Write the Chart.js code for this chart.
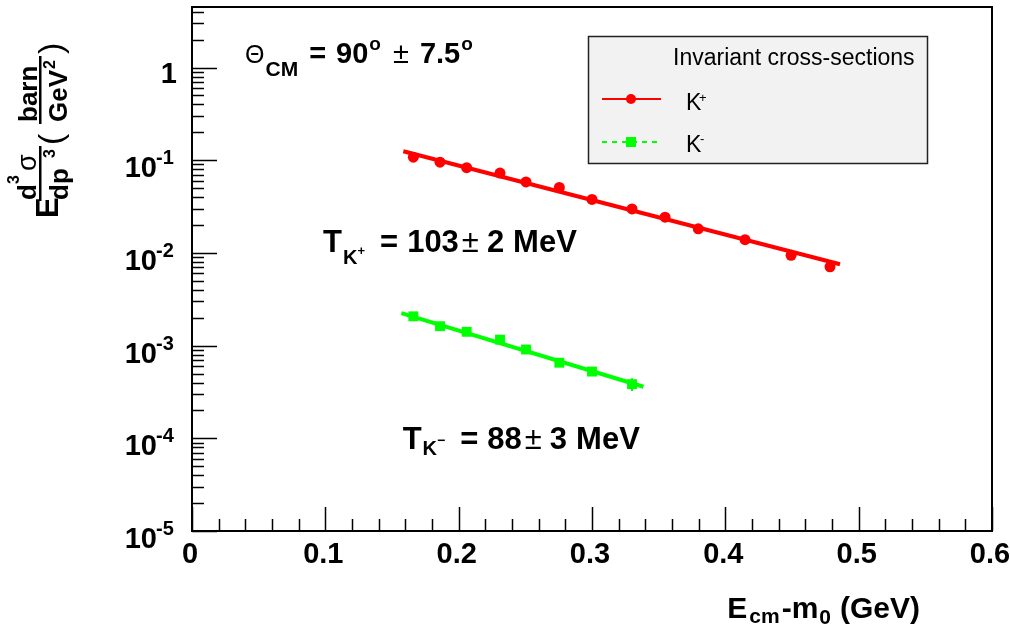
<!DOCTYPE html>
<html>
<head>
<meta charset="utf-8">
<script src="https://cdn.jsdelivr.net/npm/chart.js@4/dist/chart.umd.min.js"></script>
<style>
html, body { margin: 0; padding: 0; background: #fff; }
canvas { display: block; }
</style>
</head>
<body>
<canvas id="spectrum" width="1010" height="632"></canvas>
<script>
// K+ invariant cross-sections
const kaonPlusX = [0.166, 0.186, 0.206, 0.231, 0.2505, 0.2755, 0.300, 0.330, 0.3548, 0.3797, 0.4148, 0.4493, 0.4785];
const kaonPlusY = [0.108, 0.0954, 0.0832, 0.0728, 0.0583, 0.0508, 0.0378, 0.0298, 0.0243, 0.0182, 0.0139, 0.00942, 0.00708];
const kaonPlusErr = [0.003, 0.003, 0.002, 0.002, 0.0015, 0.0015, 0.001, 0.0008, 0.0007, 0.0005, 0.0004, 0.0003, 0.0003];

// K- invariant cross-sections
const kaonMinusX = [0.166, 0.186, 0.206, 0.231, 0.2505, 0.2755, 0.300, 0.330];
const kaonMinusY = [0.00207, 0.00162, 0.00141, 0.00116, 0.000908, 0.000654, 0.000525, 0.000384];
const kaonMinusErr = [0.00005, 0.00004, 0.00004, 0.00003, 0.00003, 0.00002, 0.00002, 0.00006];

// exponential fits, start and end of the drawn range
const kaonPlusFitX = [0.1585, 0.486];
const kaonPlusFitY = [0.125, 0.00755];
const kaonMinusFitX = [0.157, 0.3386];
const kaonMinusFitY = [0.00224, 0.00036];

const xTicks = [0, 0.1, 0.2, 0.3, 0.4, 0.5, 0.6];
const xTickLabels = ['0', '0.1', '0.2', '0.3', '0.4', '0.5', '0.6'];
const yTicks = [1e-5, 1e-4, 1e-3, 1e-2, 1e-1, 1];
const yTickExponents = ['-5', '-4', '-3', '-2', '-1', ''];

const FONT = '"Liberation Sans", Arial, Helvetica, sans-serif';
const bold = (s) => 'bold ' + s + 'px ' + FONT;
const regular = (s) => s + 'px ' + FONT;

function points(xs, ys) {
    return xs.map((x, i) => ({ x: x, y: ys[i] }));
}

// draw text pieces at fixed offsets from (x0, y0)
function drawPieces(ctx, x0, y0, pieces) {
    ctx.fillStyle = '#000';
    ctx.textBaseline = 'alphabetic';
    ctx.textAlign = 'left';
    pieces.forEach(p => {
        ctx.font = p.f;
        ctx.fillText(p.t, x0 + p.dx, y0 + (p.dy || 0));
    });
}

// pieces following each other, each with an optional gap before it
function drawRun(ctx, x0, y0, pieces, align) {
    let total = 0;
    const widths = pieces.map(p => {
        ctx.font = p.f;
        const w = ctx.measureText(p.t).width + (p.gap || 0);
        total += w;
        return w;
    });
    let x = align === 'right' ? x0 - total : x0;
    ctx.fillStyle = '#000';
    ctx.textBaseline = 'alphabetic';
    ctx.textAlign = 'left';
    pieces.forEach((p, i) => {
        ctx.font = p.f;
        ctx.fillText(p.t, x + (p.gap || 0), y0 + (p.dy || 0));
        x += widths[i];
    });
    return total;
}

const errorBars = {
    id: 'errorBars',
    afterDatasetsDraw(chart) {
        const ctx = chart.ctx;
        const xs = chart.scales.x, ys = chart.scales.y;
        const sets = [
            { x: kaonPlusX, y: kaonPlusY, e: kaonPlusErr, c: '#ff0000' },
            { x: kaonMinusX, y: kaonMinusY, e: kaonMinusErr, c: '#00ff00' }
        ];
        ctx.save();
        ctx.lineWidth = 2;
        sets.forEach(s => {
            ctx.strokeStyle = s.c;
            s.x.forEach((xv, i) => {
                const px = xs.getPixelForValue(xv);
                ctx.beginPath();
                ctx.moveTo(px, ys.getPixelForValue(s.y[i] - s.e[i]));
                ctx.lineTo(px, ys.getPixelForValue(s.y[i] + s.e[i]));
                ctx.stroke();
            });
        });
        ctx.restore();
    }
};

const frameAndText = {
    id: 'frameAndText',
    beforeDraw(chart) {
        const ctx = chart.ctx;
        ctx.save();
        ctx.fillStyle = '#fff';
        ctx.fillRect(0, 0, chart.width, chart.height);
        ctx.restore();
    },
    afterDraw(chart) {
        const ctx = chart.ctx;
        const a = chart.chartArea;
        const xs = chart.scales.x, ys = chart.scales.y;
        ctx.save();

        // frame
        ctx.strokeStyle = '#000';
        ctx.lineWidth = 2;
        ctx.strokeRect(a.left, a.top, a.right - a.left, a.bottom - a.top);

        // x ticks, drawn inwards
        ctx.lineWidth = 1.5;
        ctx.beginPath();
        for (let i = 0; i <= 30; i++) {
            const v = i * 0.02;
            const px = Math.round(xs.getPixelForValue(v)) + 0.5;
            const len = i % 5 === 0 ? 24 : 12;
            ctx.moveTo(px, a.bottom);
            ctx.lineTo(px, a.bottom - len);
        }
        // y ticks, decades and 2..9 in between
        for (let d = -5; d <= 0; d++) {
            for (let k = 1; k <= 9; k++) {
                const v = k * Math.pow(10, d);
                if (v > ys.max) break;
                const py = Math.round(ys.getPixelForValue(v)) + 0.5;
                const len = k === 1 ? 25 : 12;
                ctx.moveTo(a.left, py);
                ctx.lineTo(a.left + len, py);
            }
        }
        ctx.stroke();

        // x tick labels
        ctx.fillStyle = '#000';
        ctx.font = bold(29);
        ctx.textAlign = 'center';
        ctx.textBaseline = 'alphabetic';
        xTicks.forEach((v, i) => {
            ctx.fillText(xTickLabels[i], xs.getPixelForValue(v) - 2, a.bottom + 32);
        });

        // y tick labels
        yTicks.forEach((v, i) => {
            const py = ys.getPixelForValue(v);
            ctx.textAlign = 'right';
            ctx.font = bold(29);
            if (yTickExponents[i] === '') {
                ctx.fillText('1', 177, py + 15);
            } else {
                ctx.fillText('10', 157, py + 17);
                ctx.textAlign = 'left';
                ctx.font = bold(20);
                ctx.fillText(yTickExponents[i], 156, py + 4);
            }
        });

        // x axis title
        drawRun(ctx, 920, 618, [
            { t: 'E', f: bold(30) },
            { t: 'cm', f: bold(21), dy: 5, gap: 2 },
            { t: '-m', f: bold(30), gap: 2 },
            { t: '0', f: bold(21), dy: 6, gap: 1 },
            { t: '(GeV)', f: bold(30), gap: 9 }
        ], 'right');

        // y axis title, rotated
        ctx.save();
        ctx.translate(0, 218);
        ctx.rotate(-Math.PI / 2);
        drawPieces(ctx, 0, 0, [
            { t: 'E', f: bold(31), dx: 0, dy: 58 },
            { t: 'd', f: bold(26), dx: 18, dy: 36 },
            { t: '3', f: bold(16), dx: 34, dy: 19 },
            { t: 'σ', f: regular(27), dx: 47, dy: 36 },
            { t: 'dp', f: bold(26), dx: 18, dy: 68 },
            { t: '3', f: bold(16), dx: 60, dy: 55 },
            { t: '(', f: regular(34), dx: 73, dy: 62 },
            { t: 'barn', f: bold(26), dx: 96, dy: 37 },
            { t: 'GeV', f: bold(26), dx: 96, dy: 67 },
            { t: '2', f: bold(16), dx: 149, dy: 55 },
            { t: ')', f: regular(34), dx: 164, dy: 62 }
        ]);
        ctx.fillRect(17, 39, 55, 2.5);
        ctx.fillRect(94, 39, 68, 2.5);
        ctx.restore();

        // angle selection
        const tx = xs.getPixelForValue(0.0398), ty = ys.getPixelForValue(1.11);
        drawRun(ctx, tx, ty, [
            { t: 'Θ', f: regular(25) },
            { t: 'CM', f: bold(21), dy: 13, gap: 1 },
            { t: '=', f: bold(29), gap: 11 },
            { t: '90', f: bold(29), gap: 10 },
            { t: 'o', f: bold(19), dy: -13, gap: 1 },
            { t: '±', f: regular(29), gap: 12 },
            { t: '7.5', f: bold(29), gap: 11 },
            { t: 'o', f: bold(19), dy: -13, gap: 1 }
        ]);

        // slope parameters
        const p1x = xs.getPixelForValue(0.0983), p1y = ys.getPixelForValue(0.01034);
        drawRun(ctx, p1x, p1y, [
            { t: 'T', f: bold(31) },
            { t: 'K', f: bold(20), dy: 12, gap: 1 },
            { t: '+', f: bold(13), dy: 3 },
            { t: '=', f: bold(31), gap: 15 },
            { t: '103', f: bold(31), gap: 9 },
            { t: '±', f: regular(31), gap: 3 },
            { t: '2', f: bold(31), gap: 8 },
            { t: 'MeV', f: bold(31), gap: 9 }
        ]);
        const p2x = xs.getPixelForValue(0.158), p2y = ys.getPixelForValue(7.58e-5);
        drawRun(ctx, p2x, p2y, [
            { t: 'T', f: bold(31) },
            { t: 'K', f: bold(20), dy: 6, gap: 1 },
            { t: '−', f: bold(14), dy: -4 },
            { t: '=', f: bold(31), gap: 15 },
            { t: '88', f: bold(31), gap: 9 },
            { t: '±', f: regular(31), gap: 3 },
            { t: '3', f: bold(31), gap: 8 },
            { t: 'MeV', f: bold(31), gap: 9 }
        ]);

        // legend box
        ctx.fillStyle = '#f2f2f2';
        ctx.fillRect(588, 36, 339, 127);
        ctx.strokeStyle = '#222';
        ctx.lineWidth = 1.5;
        ctx.strokeRect(588.5, 36.5, 339, 127);
        ctx.fillStyle = '#000';
        ctx.font = regular(23);
        ctx.textAlign = 'left';
        ctx.fillText('Invariant cross-sections', 673, 65);

        ctx.strokeStyle = '#ff0000';
        ctx.lineWidth = 2;
        ctx.beginPath();
        ctx.moveTo(602, 99);
        ctx.lineTo(661, 99);
        ctx.stroke();
        ctx.fillStyle = '#ff0000';
        ctx.beginPath();
        ctx.arc(631, 99, 5, 0, Math.PI * 2);
        ctx.fill();

        ctx.strokeStyle = '#00ff00';
        ctx.setLineDash([5, 5]);
        ctx.beginPath();
        ctx.moveTo(602, 142);
        ctx.lineTo(658, 142);
        ctx.stroke();
        ctx.setLineDash([]);
        ctx.fillStyle = '#00ff00';
        ctx.fillRect(626, 137, 10, 10);

        drawPieces(ctx, 686, 110, [
            { t: 'K', f: regular(23), dx: 0 },
            { t: '+', f: regular(13), dx: 13, dy: -8 }
        ]);
        drawPieces(ctx, 686, 152, [
            { t: 'K', f: regular(23), dx: 0 },
            { t: '-', f: regular(13), dx: 14, dy: -9 }
        ]);

        ctx.restore();
    }
};

new Chart(document.getElementById('spectrum'), {
    type: 'scatter',
    data: {
        datasets: [
            {
                label: 'K+ fit',
                data: points(kaonPlusFitX, kaonPlusFitY),
                showLine: true,
                borderColor: '#ff0000',
                borderWidth: 4,
                pointRadius: 0
            },
            {
                label: 'K- fit',
                data: points(kaonMinusFitX, kaonMinusFitY),
                showLine: true,
                borderColor: '#00ff00',
                borderWidth: 4,
                pointRadius: 0
            },
            {
                label: 'K+',
                data: points(kaonPlusX, kaonPlusY),
                pointStyle: 'circle',
                pointRadius: 5.5,
                backgroundColor: '#ff0000',
                borderColor: '#ff0000',
                borderWidth: 0
            },
            {
                label: 'K-',
                data: points(kaonMinusX, kaonMinusY),
                pointStyle: 'rect',
                pointRadius: 7,
                backgroundColor: '#00ff00',
                borderColor: '#00ff00',
                borderWidth: 0
            }
        ]
    },
    options: {
        responsive: false,
        animation: false,
        devicePixelRatio: 1,
        events: [],
        layout: { padding: { left: 192, right: 18, top: 1, bottom: 101 } },
        plugins: {
            legend: { display: false },
            tooltip: { enabled: false }
        },
        scales: {
            x: { type: 'linear', min: 0, max: 0.6, display: false },
            y: { type: 'logarithmic', min: 1e-5, max: 4.5, display: false }
        }
    },
    plugins: [frameAndText, errorBars]
});
</script>
</body>
</html>
